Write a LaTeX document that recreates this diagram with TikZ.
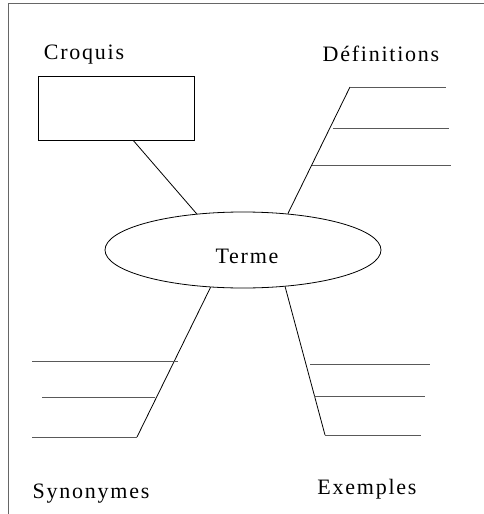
\documentclass[tikz,border=0pt]{standalone}
\usepackage{fontspec}
\setmainfont{Liberation Serif}[LetterSpace=8]
\usetikzlibrary{shapes.geometric}
\begin{document}
\begin{tikzpicture}[x=1pt,y=-1pt,
  title/.style={font=\fontsize{22}{26}\selectfont, anchor=base, inner sep=0pt},
  stem/.style={draw, line width=0.8pt, black},
  rule/.style={draw, line width=0.8pt, black!65}]
\useasboundingbox (0,0) rectangle (484,514);
\path[draw, black!60, line width=1pt] (8,514) -- (8,3) -- (484,3);

\node[draw, ellipse, line width=0.8pt, minimum width=276pt, minimum height=76pt, inner sep=0pt] (terme) at (243,250) {};
\node[draw, rectangle, line width=0.8pt, minimum width=156pt, minimum height=64pt, inner sep=0pt] (box) at (116,108) {};

\node[title] (termelabel) at (247,263) {Terme};
\node[title] (croquis) at (84,59) {Croquis};
\node[title] (definitions) at (381,61) {Définitions};
\node[title] (synonymes) at (91,498) {Synonymes};
\node[title] (exemples) at (367,494) {Exemples};

\coordinate (defend) at (350,87);
\coordinate (synend) at (137,437);
\coordinate (exend) at (325,435);

\path[stem] (box.-62) -- (terme.142);
\path[stem] (terme.39) -- (defend);
\path[stem] (terme.229) -- (synend);
\path[stem] (terme.319) -- (exend);

% lignes
\path[rule] (defend) -- ++(96,0);
\path[rule] (333,128) -- ++(116,0);
\path[rule] (312,165) -- ++(139,0);

\path[rule] (32,361) -- ++(146,0);
\path[rule] (42,397) -- ++(113,0);
\path[rule] (synend) -- ++(-105,0);

\path[rule] (310,364) -- ++(120,0);
\path[rule] (314,396) -- ++(111,0);
\path[rule] (exend) -- ++(96,0);
\end{tikzpicture}
\end{document}
